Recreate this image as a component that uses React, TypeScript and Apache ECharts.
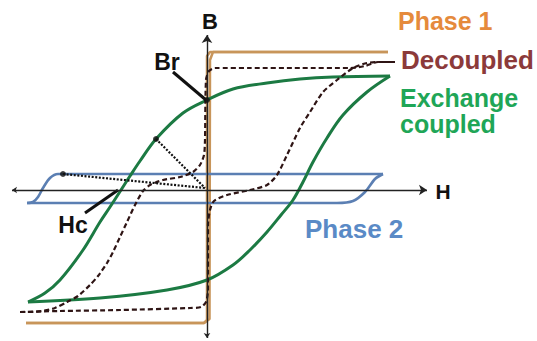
import React, { useEffect, useRef } from "react";
import * as echarts from "echarts";

// Field H and flux density B in arbitrary units (origin where the axes cross).

// Phase 1: hard, square loop
const phase1Up: number[][] = [[-18.1, -13.3], [-0.3, -13.3], [0.25, -12.9], [0.3, 13.0], [0.6, 13.8], [18.1, 13.8]];
const phase1Down: number[][] = [[18.1, 13.8], [0.3, 13.8], [0.0, 13.4], [0.0, -13.0], [-0.3, -13.3], [-18.1, -13.3]];

// Phase 2: soft, thin loop
const phase2Down: number[][] = [[17.6, 1.6], [-14.9, 1.6], [-15.7, 1.2], [-16.4, 0.2], [-16.9, -0.7], [-17.4, -1.2], [-18.0, -1.3]];
const phase2Up: number[][] = [[-18.0, -1.3], [13.0, -1.3], [14.6, -1.1], [15.8, -0.2], [16.8, 1.1], [17.6, 1.6]];

// Exchange coupled loop
const coupledDown: number[][] = [
  [18.3, 11.4], [12.6, 11.3], [9.3, 11.1], [6.0, 10.7], [2.6, 10.1], [0, 9.0], [-2.4, 7.7],
  [-5.1, 5.1], [-6.7, 2.9], [-7.7, 1.4], [-8.6, 0], [-9.7, -1.7], [-10.7, -3.2], [-12.4, -6.0],
  [-14.7, -9.0], [-16.2, -10.3], [-17.9, -11.2],
];
const coupledUp: number[][] = [
  [-17.9, -11.2], [-10.7, -10.8], [-4.0, -10.0], [0, -9.0], [2.6, -7.5], [4.3, -6.0], [6.0, -4.2],
  [7.4, -2.5], [8.6, -1.0], [9.6, 0.8], [10.6, 2.8], [12.0, 5.2], [13.6, 7.5], [16.0, 9.8], [18.3, 11.4],
];

// Decoupled (two-step) loop
const decoupledDown: number[][] = [
  [18.8, 12.8], [17.1, 12.8], [15.8, 12.4], [14.3, 12.2], [9.3, 12.2], [4.3, 12.2], [0.8, 12.2],
  [0.2, 11.9], [-0.1, 11.0], [-0.2, 5.0], [-0.3, 3.5], [-0.7, 2.5], [-1.4, 1.8], [-2.7, 1.3],
  [-4.4, 1.0], [-5.7, 0.5], [-6.4, -0.1], [-7.2, -1.5], [-8.0, -3.2], [-8.7, -4.7], [-9.4, -6.2],
  [-10.0, -7.3], [-10.9, -8.6], [-11.7, -9.5], [-12.9, -10.6], [-14.0, -11.2], [-15.2, -11.8],
  [-16.5, -12.1], [-17.7, -12.2], [-18.7, -12.2],
];
const decoupledUp: number[][] = [
  [-18.7, -12.2], [-14.7, -12.1], [-8.7, -12.0], [-1.7, -11.8], [-0.6, -11.7], [-0.1, -11.2],
  [0.1, -10.0], [0.1, -3.5], [0.3, -2.0], [0.7, -1.1], [2.0, -0.5], [4.3, 0], [6.0, 0.5],
  [7.0, 1.5], [8.0, 3.5], [9.3, 6.2], [10.3, 7.8], [11.6, 9.8], [13.0, 11.0], [14.6, 12.2],
  [16.0, 12.7], [17.3, 12.8], [18.8, 12.8],
];

// Remanence point, coupled-loop point and phase 2 switching point
const markedPoints: number[][] = [[0, 9.0], [-5.1, 5.1], [-14.4, 1.6]];
// Construction lines running from the marked points to the origin
const guideLines: number[][][] = [
  [[-5.1, 5.1], [-0.2, 0.2]],
  [[-14.4, 1.6], [-0.2, 0.2]],
];
// Leader lines for the Br and Hc labels
const leaders: number[][][] = [
  [[-3.4, 11.8], [-0.1, 9.0]],
  [[-12.2, -2.3], [-8.9, 0]],
];
// H and B axes
const axisLines: number[][][] = [
  [[-19.5, 0], [22.0, 0]],
  [[0, -14.8], [0, 15.5]],
];

const FONT = "'Liberation Sans', Arial, sans-serif";

function loop(data: number[][], color: string, width: number, type: any = "solid", smooth: number | boolean = 0.35, z = 2) {
  return {
    type: "line",
    data,
    smooth,
    showSymbol: false,
    silent: true,
    lineStyle: { color, width, type },
    z,
  };
}

export default function App() {
  const ref = useRef<HTMLDivElement>(null);

  useEffect(() => {
    if (!ref.current) return;
    const chart = echarts.init(ref.current, null, { renderer: "svg" });
    const text = (t: string, x: number, y: number, size: number, fill: string, align = "center") => ({
      type: "text",
      x,
      y,
      silent: true,
      z: 10,
      style: {
        text: t,
        fill,
        font: `bold ${size}px ${FONT}`,
        textAlign: align,
        textVerticalAlign: "middle",
      },
    });

    chart.setOption({
      animation: false,
      backgroundColor: "#ffffff",
      grid: { left: 0, right: 0, top: 0, bottom: 0, containLabel: false },
      xAxis: { type: "value", min: -20.7, max: 33.0, show: false },
      yAxis: { type: "value", min: -15.1, max: 19.0, show: false },
      series: [
        loop(phase1Down, "#c8955a", 2.5, "solid", false, 1),
        loop(phase1Up, "#c8955a", 2.5, "solid", false, 1),
        loop(phase2Down, "#5b7fb3", 2.6, "solid", 0.3),
        loop(phase2Up, "#5b7fb3", 2.6, "solid", 0.3),
        loop(coupledDown, "#1c7a43", 3),
        loop(coupledUp, "#1c7a43", 3),
        loop(decoupledDown, "#2e1414", 2.2, [5, 3], 0.25),
        loop(decoupledUp, "#2e1414", 2.2, [5, 3], 0.25),
        {
          type: "lines",
          coordinateSystem: "cartesian2d",
          silent: true,
          z: 3,
          lineStyle: { color: "#111111", width: 2.2, type: [2, 1.6], opacity: 1 },
          data: guideLines.map((c) => ({ coords: c })),
        },
        {
          type: "lines",
          coordinateSystem: "cartesian2d",
          silent: true,
          z: 4,
          lineStyle: { color: "#111111", width: 3, opacity: 1 },
          data: leaders.map((c) => ({ coords: c })),
        },
        {
          type: "lines",
          coordinateSystem: "cartesian2d",
          silent: true,
          z: 5,
          symbol: ["arrow", "arrow"],
          symbolSize: [5, 8],
          lineStyle: { color: "#222222", width: 1.4, opacity: 1 },
          data: axisLines.map((c) => ({ coords: c })),
        },
        {
          type: "scatter",
          data: markedPoints,
          symbolSize: 6,
          silent: true,
          z: 6,
          itemStyle: { color: "#111111" },
        },
      ],
      graphic: [
        text("B", 210, 21, 22, "#111111"),
        text("H", 443, 191, 21, "#111111"),
        text("Br", 167, 62, 23, "#111111"),
        text("Hc", 73, 225, 23, "#111111"),
        text("Phase 1", 398, 21, 25, "#e58a3c", "left"),
        text("Decoupled", 401, 60, 26, "#8c3a3a", "left"),
        text("Exchange", 400, 98, 25, "#1fa657", "left"),
        text("coupled", 400, 124, 25, "#1fa657", "left"),
        text("Phase 2", 305, 229, 26, "#5a8ac6", "left"),
      ],
    });
    return () => chart.dispose();
  }, []);

  return (
    <div
      ref={ref}
      style={{ position: "fixed", left: 0, top: 0, width: 537, height: 341, background: "#fff" }}
    />
  );
}
